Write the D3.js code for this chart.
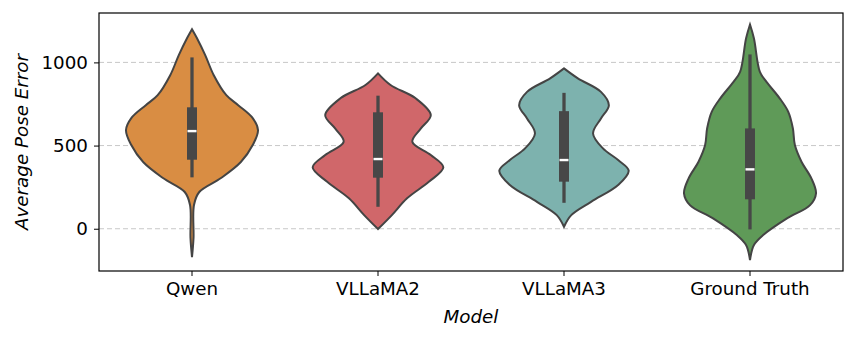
<!DOCTYPE html>
<html>
<head>
<meta charset="utf-8">
<script src="https://cdn.jsdelivr.net/npm/d3@7"></script>
<style>
  body { margin: 0; background: #fff; }
  text { font-family: "DejaVu Sans", sans-serif; fill: #000; }
</style>
</head>
<body>
<svg id="chart" width="856" height="341"></svg>
<script>
// categories and colours
const models = ["Qwen", "VLLaMA2", "VLLaMA3", "Ground Truth"]
const colors = ["#d98d43", "#d0676a", "#7db2ae", "#5f9a58"]
const yTicks = [0, 500, 1000]

// density outlines: [value, relative density]
const qwenDensity = [
    [1200, 0], [1150, 0.07], [1044, 0.2], [923, 0.33], [803, 0.52], [743, 0.7], [665, 0.92],
    [593, 1.0], [503, 0.92], [401, 0.74], [305, 0.44], [221, 0.11],
    [143, 0.03], [-56, 0.023], [-170, 0]
]
const vllama2Density = [
    [934, 0], [864, 0.19], [784, 0.57], [683, 0.8], [603, 0.65], [523, 0.52],
    [443, 0.8], [369, 0.99], [282, 0.77], [183, 0.44], [82, 0.21], [-2, 0]
]
const vllama3Density = [
    [964, 0], [904, 0.21], [823, 0.56], [743, 0.68], [663, 0.56], [573, 0.44],
    [483, 0.59], [413, 0.82], [349, 0.98], [263, 0.82], [162, 0.41], [82, 0.11], [12, 0]
]
const groundTruthDensity = [
    [1228, 0], [1144, 0.06], [943, 0.15], [883, 0.25], [784, 0.45], [703, 0.58],
    [603, 0.65], [503, 0.68], [403, 0.78], [303, 0.93], [213, 1.0], [142, 0.91],
    [62, 0.56], [-38, 0.2], [-98, 0.06], [-188, 0]
]
const densities = [qwenDensity, vllama2Density, vllama3Density, groundTruthDensity]

// box stats: [whiskerLow, q1, median, q3, whiskerHigh]
const qwenBox = [309, 415, 587, 730, 1030]
const vllama2Box = [132, 307, 419, 700, 800]
const vllama3Box = [156, 283, 413, 707, 817]
const groundTruthBox = [-4, 177, 357, 603, 1048]
const boxes = [qwenBox, vllama2Box, vllama3Box, groundTruthBox]

const margin = {left: 99, right: 13, top: 13, bottom: 70}
const svg = d3.select("#chart")
const W = 856, H = 341
const x = d3.scaleBand().domain(models).range([margin.left, W - margin.right])
const y = d3.scaleLinear().domain([-254, 1297]).range([H - margin.bottom, margin.top])
const w = d3.scaleLinear().domain([0, 1]).range([0, 66])

// grid
svg.append("g")
    .selectAll("line")
    .data(yTicks)
    .join("line")
    .attr("x1", margin.left).attr("x2", W - margin.right)
    .attr("y1", d => y(d)).attr("y2", d => y(d))
    .attr("stroke", "#c8c8c8")
    .attr("stroke-width", 1)
    .attr("stroke-dasharray", "5,3")

const area = d3.area()
    .y(d => y(d[0]))
    .curve(d3.curveCatmullRom)

const violins = svg.append("g")
    .selectAll("g")
    .data(models)
    .join("g")

violins.append("path")
    .attr("d", (m, i) => {
        const cx = x(m) + x.bandwidth() / 2
        return area.x0(d => cx - w(d[1])).x1(d => cx + w(d[1]))(densities[i])
    })
    .attr("fill", (m, i) => colors[i])
    .attr("stroke", "#444")
    .attr("stroke-width", 2)

// whiskers
violins.append("line")
    .attr("x1", m => x(m) + x.bandwidth() / 2)
    .attr("x2", m => x(m) + x.bandwidth() / 2)
    .attr("y1", (m, i) => y(boxes[i][0]))
    .attr("y2", (m, i) => y(boxes[i][4]))
    .attr("stroke", "#474747")
    .attr("stroke-width", 3.3)

// box
violins.append("rect")
    .attr("x", m => x(m) + x.bandwidth() / 2 - 5)
    .attr("width", 10)
    .attr("y", (m, i) => y(boxes[i][3]))
    .attr("height", (m, i) => y(boxes[i][1]) - y(boxes[i][3]))
    .attr("fill", "#474747")

// median
violins.append("line")
    .attr("x1", m => x(m) + x.bandwidth() / 2 - 4.5)
    .attr("x2", m => x(m) + x.bandwidth() / 2 + 4.5)
    .attr("y1", (m, i) => y(boxes[i][2]))
    .attr("y2", (m, i) => y(boxes[i][2]))
    .attr("stroke", "#fff")
    .attr("stroke-width", 2.4)

// axes
const xAxis = svg.append("g")
    .attr("transform", `translate(0,${H - margin.bottom})`)
    .call(d3.axisBottom(x).tickSize(5).tickPadding(6))
const yAxis = svg.append("g")
    .attr("transform", `translate(${margin.left},0)`)
    .call(d3.axisLeft(y).tickValues(yTicks).tickFormat(d3.format("d")).tickSize(5).tickPadding(6))

for (const a of [xAxis, yAxis]) {
    a.select(".domain").remove()
    a.selectAll("line").attr("stroke", "#000").attr("stroke-width", 1)
    a.selectAll("text").attr("font-size", 18.3).attr("font-family", "DejaVu Sans")
}

// frame
svg.append("rect")
    .attr("x", margin.left).attr("y", margin.top)
    .attr("width", W - margin.left - margin.right)
    .attr("height", H - margin.top - margin.bottom)
    .attr("fill", "none")
    .attr("stroke", "#000")
    .attr("stroke-width", 1.2)

svg.append("text")
    .attr("x", (margin.left + W - margin.right) / 2)
    .attr("y", 323)
    .attr("text-anchor", "middle")
    .attr("font-size", 18.3)
    .attr("font-style", "italic")
    .text("Model")

svg.append("text")
    .attr("transform", `translate(28,${(margin.top + H - margin.bottom) / 2}) rotate(-90)`)
    .attr("text-anchor", "middle")
    .attr("font-size", 18.3)
    .attr("font-style", "italic")
    .text("Average Pose Error")
</script>
</body>
</html>
